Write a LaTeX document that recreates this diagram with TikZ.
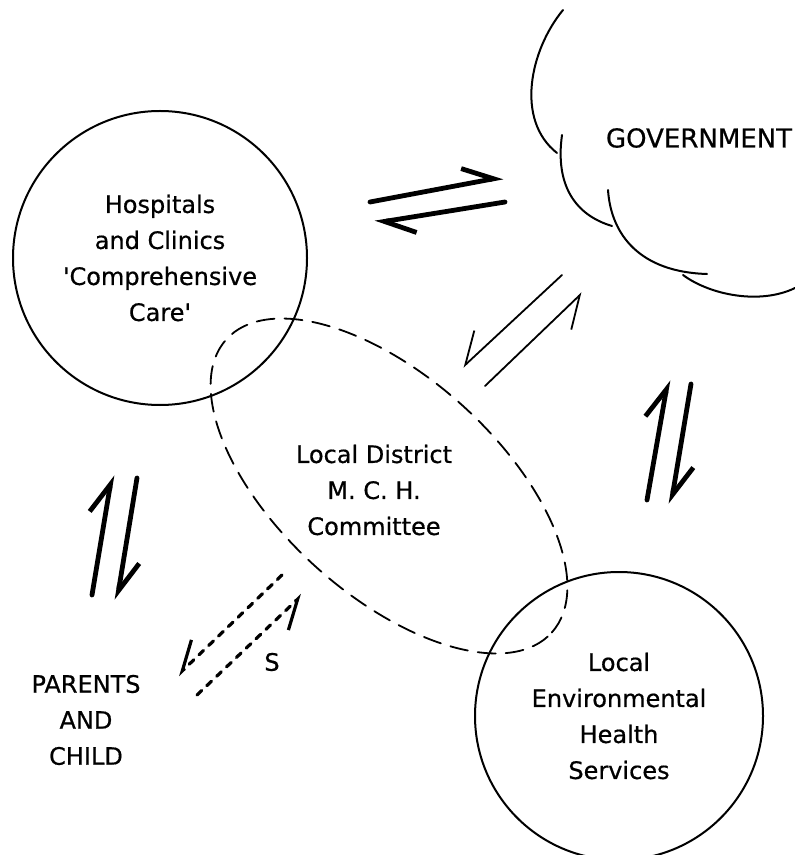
\documentclass[tikz,border=0pt]{standalone}
\usepackage{fontspec}
\setmainfont{DejaVu Sans}[UprightFeatures={FakeBold=0.6}]
\usetikzlibrary{positioning,arrows.meta,shapes.geometric}

\begin{document}
\begin{tikzpicture}[x=0.5pt, y=-0.5pt, line cap=round, font=\fontsize{12}{18}\selectfont,
  agency/.style={draw, circle, line width=1pt, minimum size=#1, align=center, inner sep=0pt},
  ring/.style={draw, ellipse, line width=0.9pt, dash pattern=on 9pt off 5pt, minimum width=219pt, minimum height=109pt},
  cloudline/.style={line width=1pt},
  flow/.style={line width=2.4pt, -{Straight Barb[harpoon, length=15pt, width=16pt]}},
  link/.style={line width=0.9pt, -{Straight Barb[harpoon, swap, length=15pt, width=19pt]}},
  tie/.style={line width=1.6pt, dash pattern=on 3.2pt off 3.6pt, -{Straight Barb[harpoon, swap, length=14pt, width=16pt]}}]
\useasboundingbox (0,0) rectangle (795,855);
% the four parties
\node[agency=147pt] (hosp) at (160,258) {Hospitals\\and Clinics\\\textquotesingle Comprehensive\\Care\textquotesingle};
\node[agency=144pt] (env) at (619,716) {Local\\Environmental\\Health\\Services};
\node[align=center] (home) at (86,720) {PARENTS\\AND\\CHILD};
\node[font=\fontsize{13}{18}\selectfont] (gov) at (699,138) {GOVERNMENT};
\draw[cloudline] (563,10) .. controls (530,50) and (515,120) .. (557,153)
  (562,135) .. controls (555,185) and (575,215) .. (612,226)
  (608,190) .. controls (611,235) and (640,272) .. (707,274)
  (683,275) .. controls (710,295) and (760,305) .. (795,288);
% committee overlapping both circles
\node[ring, rotate=-42] (mchring) at (389,486) {};
\node[align=center] (mch) at (374,490) {Local District\\M. C. H.\\Committee};
% half-arrow pairs
\path (370,202) coordinate (hg1) (503,177) coordinate (hg2)
      (505,202) coordinate (gh1) (375,223) coordinate (gh2)
      (562,275) coordinate (gm1) (463,367) coordinate (gm2)
      (485,386) coordinate (mg1) (582,293) coordinate (mg2)
      (647,500) coordinate (eg1) (668,380) coordinate (eg2)
      (691,384) coordinate (ge1) (671,504) coordinate (ge2)
      (92,595)  coordinate (ph1) (112,475) coordinate (ph2)
      (137,478) coordinate (hp1) (117,600) coordinate (hp2)
      (282,575) coordinate (mp1) (178,675) coordinate (mp2)
      (197,695) coordinate (pm1) (302,595) coordinate (pm2);
\foreach \a/\b in {hg1/hg2,gh1/gh2,eg1/eg2,ge1/ge2,ph1/ph2,hp1/hp2}
  \draw[flow] (\a)--(\b);
\foreach \a/\b in {gm1/gm2,mg1/mg2}
  \draw[link] (\a)--(\b);
\foreach \a/\b in {mp1/mp2,pm1/pm2}
  \draw[tie] (\a)--(\b);
\node (slabel) at (272,662) {S};
\end{tikzpicture}
\end{document}
